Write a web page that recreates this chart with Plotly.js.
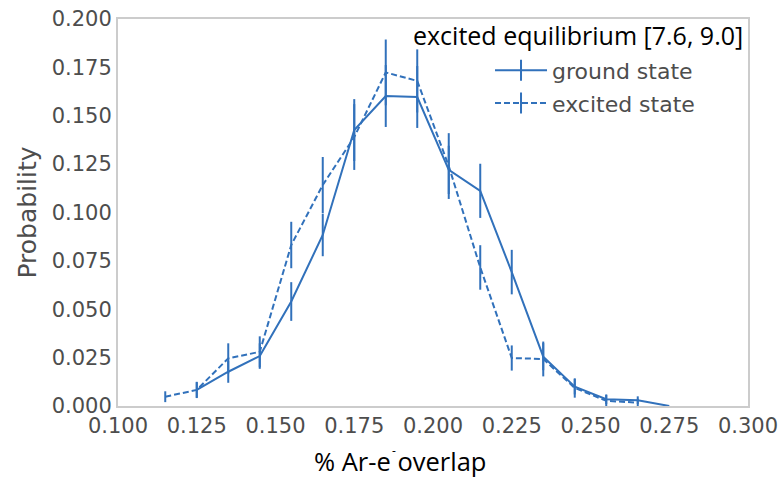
<!DOCTYPE html>
<html>
<head>
<meta charset="utf-8">
<script src="https://cdn.plot.ly/plotly-3.0.1.min.js"></script>
<style>html,body{margin:0;padding:0;background:#fff;}#chart{width:784px;height:480px;}</style>
</head>
<body>
<div id="chart"></div>
<script>
// Data
var xGround = [0.125,0.135,0.145,0.155,0.165,0.175,0.185,0.195,0.205,0.215,0.225,0.235,0.245,0.255,0.265,0.275];
var yGround = [0.0083,0.0177,0.0258,0.0540,0.0884,0.1426,0.1602,0.1597,0.1220,0.1112,0.0692,0.0255,0.0100,0.0035,0.0030,0.0000];
var errGround = [0.0042,0.0057,0.0066,0.0100,0.0110,0.0160,0.0160,0.0160,0.0125,0.0140,0.0115,0.0070,0.0040,0.0025,0.0020,0.0000];

var xExcited = [0.115,0.125,0.135,0.145,0.155,0.165,0.175,0.185,0.195,0.205,0.215,0.225,0.235,0.245,0.255,0.265];
var yExcited = [0.0048,0.0083,0.0246,0.0280,0.0832,0.1142,0.1390,0.1724,0.1680,0.1240,0.0716,0.0248,0.0243,0.0093,0.0027,0.0017];
var errExcited = [0.0028,0.0040,0.0078,0.0080,0.0120,0.0145,0.0170,0.0170,0.0163,0.0170,0.0115,0.0065,0.0090,0.0050,0.0030,0.0020];

var seriesNames = ["ground state", "excited state"];
var legendTitle = "excited equilibrium [7.6, 9.0]";
var xTitle = "% Ar-e overlap";
var xTitleSup = "-";
var yTitle = "Probability";

var blue = "#3171bb";

var traces = [
  {x: xGround, y: yGround, type: "scatter", mode: "lines", showlegend: false,
   line: {color: blue, width: 2},
   error_y: {type: "data", array: errGround, visible: true, color: blue, thickness: 2, width: 0}},
  {x: xExcited, y: yExcited, type: "scatter", mode: "lines", showlegend: false,
   line: {color: blue, width: 2, dash: "6px,3px"},
   error_y: {type: "data", array: errExcited, visible: true, color: blue, thickness: 2, width: 0}},
  {x: [null], y: [null], type: "scatter", mode: "lines+markers", name: seriesNames[0], legendgroup: "g",
   line: {color: blue, width: 2},
   marker: {symbol: "line-ns", size: 15, line: {color: blue, width: 2}}},
  {x: [null], y: [null], type: "scatter", mode: "lines+markers", name: seriesNames[1], legendgroup: "e",
   line: {color: blue, width: 2, dash: "6px,3px"},
   marker: {symbol: "line-ns", size: 15, line: {color: blue, width: 2}}}
];

var layout = {
  width: 784, height: 480,
  margin: {l: 118, r: 36, t: 19, b: 74, pad: 0},
  paper_bgcolor: "#ffffff", plot_bgcolor: "#ffffff",
  font: {family: "DejaVu Sans", color: "#4d4d4d"},
  showlegend: true,
  legend: {x: 0.5905, y: 0.921, xanchor: "left", yanchor: "top",
           font: {family: "DejaVu Sans", size: 22, color: "#4d4d4d"},
           bgcolor: "rgba(0,0,0,0)", borderwidth: 0, itemwidth: 52,
           traceorder: "grouped", tracegroupgap: 1},
  xaxis: {range: [0.1, 0.3], dtick: 0.025, tick0: 0.1, tickformat: ".3f",
          showgrid: false, zeroline: false, showline: true, mirror: true,
          linecolor: "#cccccc", linewidth: 2, ticks: "", ticklen: 0,
          tickfont: {family: "DejaVu Sans", size: 21, color: "#4d4d4d"}},
  yaxis: {range: [0, 0.2], dtick: 0.025, tick0: 0, tickformat: ".3f",
          showgrid: false, zeroline: false, showline: true, mirror: true,
          linecolor: "#cccccc", linewidth: 2, ticks: "", ticklen: 0,
          tickfont: {family: "DejaVu Sans", size: 21, color: "#4d4d4d"},
          title: {text: yTitle, standoff: 8, font: {family: "DejaVu Sans", size: 25, color: "#4d4d4d"}}},
  annotations: [
    {text: legendTitle, xref: "paper", yref: "paper", x: 0.9937, y: 0.9587,
     xanchor: "right", yanchor: "middle", showarrow: false, borderpad: 0,
     font: {family: "Open Sans", size: 25, color: "#000000"}},
    {text: xTitle, xref: "paper", yref: "paper", x: 0.4476, y: -0.1895,
     xanchor: "center", yanchor: "bottom", showarrow: false, borderpad: 0,
     font: {family: "Open Sans", size: 25.5, color: "#000000"}},
    {text: xTitleSup, xref: "paper", yref: "paper", x: 0.438, y: -0.114,
     xanchor: "center", yanchor: "middle", showarrow: false, borderpad: 0,
     font: {family: "Open Sans", size: 12, color: "#000000"}}
  ]
};

Plotly.newPlot("chart", traces, layout, {displayModeBar: false, staticPlot: true});
</script>
</body>
</html>
